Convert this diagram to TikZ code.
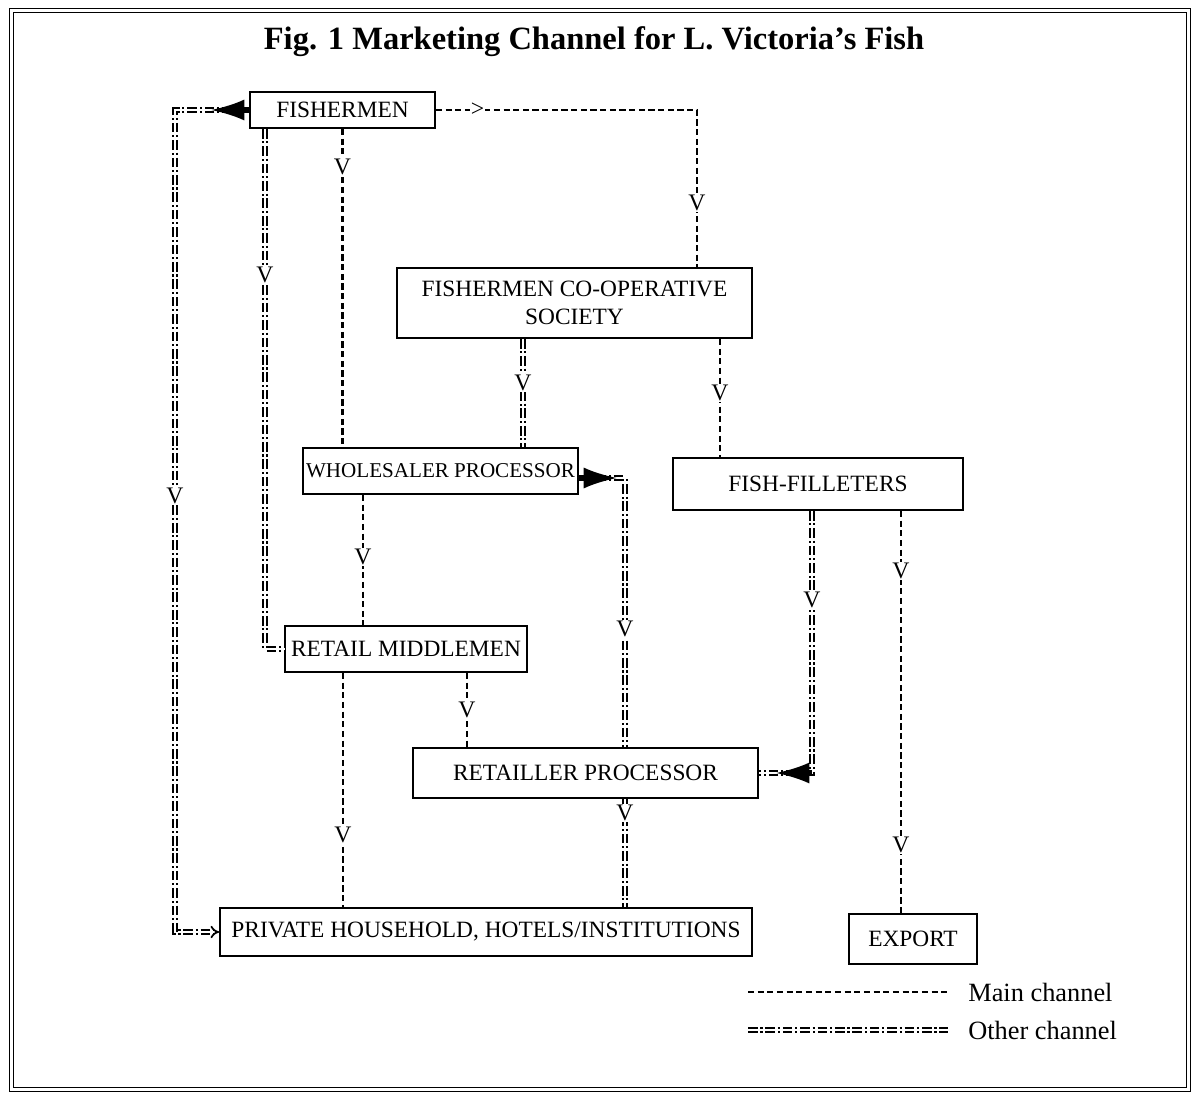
\documentclass[tikz,border=0pt]{standalone}
\usepackage{fontspec}
\setmainfont{Liberation Serif}
\usetikzlibrary{arrows.meta}

\begin{document}
\begin{tikzpicture}[x=0.02cm, y=-0.02cm,
	box/.style={draw=black, line width=1pt, inner sep=0pt, align=center, font=\fontsize{13.3}{16}\selectfont},
	mainch/.style={line width=1.3pt, dash pattern=on 3.5pt off 2pt},
	otherch/.style={double, line width=1pt, double distance=1.3pt, dash pattern=on 5.5pt off 1.6pt on 1.2pt off 1.6pt},
	vlab/.style={fill=white, inner sep=0.6pt, font=\fontsize{13.5}{13.5}\selectfont},
	arr/.style={-{Latex[length=19pt,width=12pt]}, line width=1.6pt},
	legtxt/.style={anchor=west, inner sep=0pt, font=\fontsize{15}{17}\selectfont}]
	\useasboundingbox (0,0) rectangle (1194,1094);

	% frame and title
	\coordinate (fra) at (11.5,10.5);
	\coordinate (frb) at (1188.5,1089.5);
	\draw[line width=0.8pt, double, double distance=1.2pt] (fra) rectangle (frb);
	\node[anchor=base, inner sep=0pt, font=\bfseries\fontsize{18.5}{22}\selectfont] (title) at (594,50) {Fig. 1 Marketing Channel for L. Victoria's Fish};

	% boxes
	\node[box, minimum width=3.7cm,  minimum height=0.72cm] (fish)   at (342.5,110) {FISHERMEN};
	\node[box, minimum width=7.1cm,  minimum height=1.4cm]  (coop)   at (574.5,303) {FISHERMEN CO-OPERATIVE\\SOCIETY};
	\node[box, minimum width=5.5cm,  minimum height=0.92cm, font=\fontsize{12}{14}\selectfont] (whole) at (440.5,471) {WHOLESALER PROCESSOR};
	\node[box, minimum width=5.8cm,  minimum height=1.04cm] (fil)    at (818,484)   {FISH-FILLETERS};
	\node[box, minimum width=4.84cm, minimum height=0.92cm] (retail) at (406,649)   {RETAIL MIDDLEMEN};
	\node[box, minimum width=6.9cm,  minimum height=1.0cm]  (ret)    at (585.5,773) {RETAILLER PROCESSOR};
	\node[box, minimum width=10.64cm,minimum height=0.96cm] (priv)   at (486,932)   {PRIVATE HOUSEHOLD, HOTELS/INSTITUTIONS};
	\node[box, minimum width=2.56cm, minimum height=1.0cm]  (export) at (913,939)   {EXPORT};

	% line positions
	\coordinate (xcoop) at (697,0);
	\coordinate (xfil)  at (720,0);
	\coordinate (xwr)   at (363,0);
	\coordinate (xrr)   at (467,0);
	\coordinate (xrp)   at (343,0);
	\coordinate (xex)   at (901,0);
	\coordinate (xleft) at (175,0);
	\coordinate (xfr)   at (265,0);
	\coordinate (xcw)   at (523,0);
	\coordinate (xwp)   at (625,0);
	\coordinate (xfp)   at (812,0);
	\coordinate (ywr)   at (0,478);
	\coordinate (ftip)  at (211,110);
	\coordinate (wtip)  at (617,478);
	\coordinate (rtip)  at (776,773);

	% main channel
	\draw[mainch] (fish.east) -- node[vlab,pos=0.16]{>} (fish.east -| xcoop) -- node[vlab,pos=0.59]{V} (coop.north -| xcoop);
	\draw[mainch] (fish.south) -- node[vlab,pos=0.12]{V} (fish.south |- whole.north);
	\draw[mainch] (coop.south -| xfil) -- node[vlab,pos=0.46]{V} (fil.north -| xfil);
	\draw[mainch] (whole.south -| xwr) -- node[vlab,pos=0.48]{V} (retail.north -| xwr);
	\draw[mainch] (retail.south -| xrr) -- node[vlab,pos=0.5]{V} (ret.north -| xrr);
	\draw[mainch] (retail.south -| xrp) -- node[vlab,pos=0.69]{V} (priv.north -| xrp);
	\draw[mainch] (fil.south -| xex) -- node[vlab,pos=0.15]{V} node[vlab,pos=0.83]{V} (export.north -| xex);

	% other channel
	\draw[otherch, -{Implies[length=8pt]}] (fish.west) -- (fish.west -| xleft) -- node[vlab,pos=0.47]{V} (priv.west -| xleft) -- (priv.west);
	\draw[arr] (fish.west) -- (ftip);
	\draw[otherch] (fish.south -| xfr) -- node[vlab,pos=0.28]{V} (retail.west -| xfr) -- (retail.west);
	\draw[otherch] (coop.south -| xcw) -- node[vlab,pos=0.41]{V} (whole.north -| xcw);
	\draw[otherch] (whole.east |- ywr) -- (xwp |- ywr) -- node[vlab,pos=0.56]{V} (ret.north -| xwp);
	\draw[arr] (whole.east |- ywr) -- (wtip);
	\draw[otherch] (fil.south -| xfp) -- node[vlab,pos=0.34]{V} (ret.east -| xfp) -- (ret.east);
	\draw[arr] (ret.east -| xfp) -- (rtip);
	\draw[otherch] (ret.south -| xwp) -- node[vlab,pos=0.13]{V} (priv.north -| xwp);

	% legend
	\coordinate (l1a) at (748,992);
	\coordinate (l1b) at (948,992);
	\coordinate (l2a) at (748,1030);
	\coordinate (l2b) at (948,1030);
	\draw[mainch] (l1a) -- (l1b);
	\node[legtxt] (lmain) at (968,992) {Main channel};
	\draw[otherch] (l2a) -- (l2b);
	\node[legtxt] (lother) at (968,1030) {Other channel};
\end{tikzpicture}
\end{document}
